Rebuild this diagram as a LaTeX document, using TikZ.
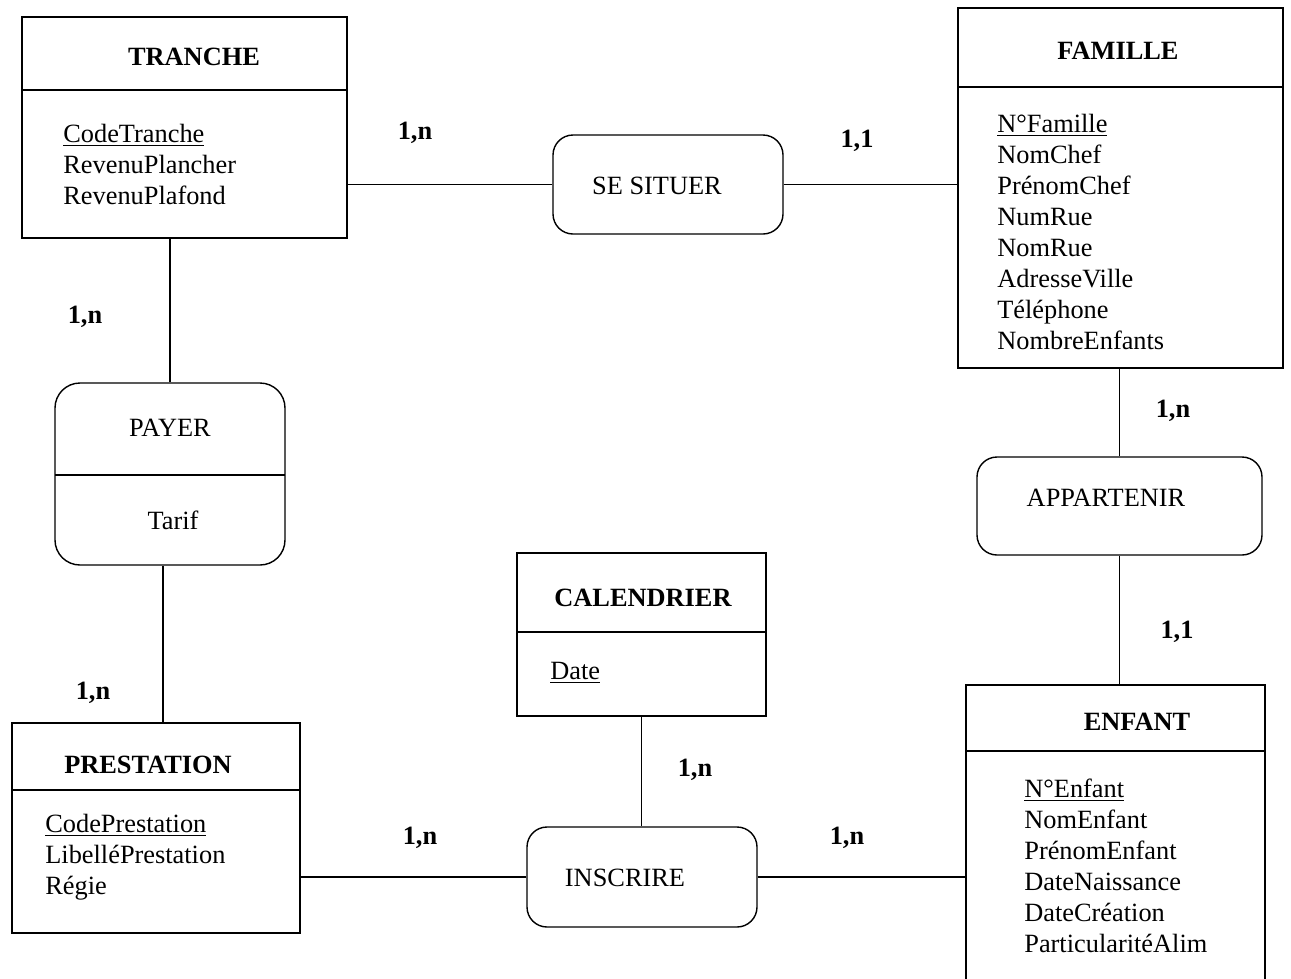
\documentclass[tikz,border=0pt]{standalone}
\usepackage{fontspec}
\setmainfont{Liberation Serif}
\usetikzlibrary{fit}

\tikzset{
  entity/.style={draw, line width=0.8pt, inner sep=0pt},
  relation/.style={draw, line width=0.8pt, rounded corners=0.4cm, inner sep=0pt},
  title/.style={font=\fontsize{15}{18}\selectfont\bfseries},
  attrs/.style={align=left, inner sep=0pt, anchor=west, font=\fontsize{15}{17.6}\selectfont},
  rname/.style={font=\fontsize{15}{18}\selectfont},
  card/.style={font=\fontsize{15}{18}\selectfont\bfseries},
  link/.style={line width=0.8pt},
}

\begin{document}
\begin{tikzpicture}[x=0.02cm, y=-0.02cm]
\useasboundingbox (0,0) rectangle (1291,978);

% entites
\node[entity, fit={(22,17) (347,238)}] (tranche) {};
\draw[link] (22,90) -- (347,90);
\node[title] (trancheT) at (194,57) {TRANCHE};
\node[attrs] (trancheA) at (63,164.5) {\underline{CodeTranche}\\RevenuPlancher\\RevenuPlafond};

\node[entity, fit={(958,8) (1283,368)}] (famille) {};
\draw[link] (958,87) -- (1283,87);
\node[title] (familleT) at (1118,51) {FAMILLE};
\node[attrs] (familleA) at (997,232) {\underline{N°Famille}\\NomChef\\PrénomChef\\NumRue\\NomRue\\AdresseVille\\Téléphone\\NombreEnfants};

\node[entity, fit={(517,553) (766,716)}] (calendrier) {};
\draw[link] (517,632) -- (766,632);
\node[title] (calendrierT) at (643,598) {CALENDRIER};
\node[attrs] (calendrierA) at (550,673) {\underline{Date}};

\node[entity, fit={(12,723) (300,933)}] (prestation) {};
\draw[link] (12,790) -- (300,790);
\node[title] (prestationT) at (148,765) {PRESTATION};
\node[attrs] (prestationA) at (45,857.5) {\underline{CodePrestation}\\LibelléPrestation\\Régie};

\node[entity, fit={(966,685) (1265,1000)}] (enfant) {};
\draw[link] (966,751) -- (1265,751);
\node[title] (enfantT) at (1137,722) {ENFANT};
\node[attrs] (enfantA) at (1024,866) {\underline{N°Enfant}\\NomEnfant\\PrénomEnfant\\DateNaissance\\DateCréation\\ParticularitéAlim};

% associations
\node[relation, fit={(553,135) (783,234)}] (situer) {};
\node[rname] (situerT) at (657,186) {SE SITUER};

\node[relation, rounded corners=0.5cm, fit={(55,383) (285,565)}] (payer) {};
\draw[link] (55,475) -- (285,475);
\node[rname] (payerT) at (170,428) {PAYER};
\node[rname] (payerA) at (173,520) {Tarif};

\node[relation, fit={(977,457) (1262,555)}] (appartenir) {};
\node[rname] (appartenirT) at (1106,498) {APPARTENIR};

\node[relation, fit={(527,827) (757,927)}] (inscrire) {};
\node[rname] (inscrireT) at (625,878) {INSCRIRE};

% liens
\draw[link] (situer.west) -- (situer.west -| tranche.east);
\draw[link] (situer.east) -- (situer.east -| famille.west);
\draw[link] (payer.north) -- (payer.north |- tranche.south);
\draw[link] ([xshift=-0.14cm]payer.south) -- ([xshift=-0.14cm]payer.south |- prestation.north);
\draw[link] (appartenir.north) -- (appartenir.north |- famille.south);
\draw[link] (appartenir.south) -- (appartenir.south |- enfant.north);
\draw[link] (inscrire.west) -- (inscrire.west -| prestation.east);
\draw[link] (inscrire.east) -- (inscrire.east -| enfant.west);
\draw[link] (calendrier.south) -- (calendrier.south |- inscrire.north);

% cardinalites
\node[card] (c1) at (415,133) {1,n};
\node[card] (c2) at (857,141) {1,1};
\node[card] (c3) at (85,317) {1,n};
\node[card] (c4) at (93,693) {1,n};
\node[card] (c5) at (1173,411) {1,n};
\node[card] (c6) at (1177,632) {1,1};
\node[card] (c7) at (420,838) {1,n};
\node[card] (c8) at (695,770) {1,n};
\node[card] (c9) at (847,838) {1,n};
\end{tikzpicture}
\end{document}
